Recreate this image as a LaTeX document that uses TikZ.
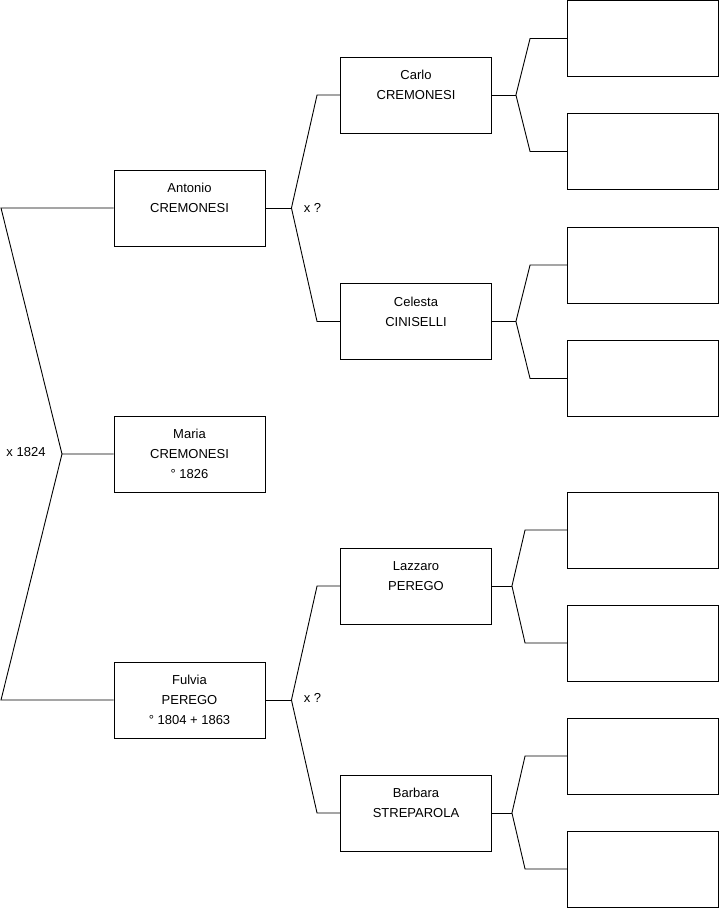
\documentclass[tikz,border=0pt]{standalone}
\usepackage{fontspec}
\setmainfont{Liberation Sans}
\usepackage{tikz}
\usetikzlibrary{positioning}

\begin{document}
\begin{tikzpicture}[x=1pt,y=-1pt,
  box/.style={draw,line width=0.9pt,minimum width=151pt,minimum height=76pt,inner sep=0pt,align=center,font=\fontsize{13}{20}\selectfont},
  link/.style={line width=0.9pt},
  note/.style={font=\fontsize{13}{20}\selectfont}]
  \useasboundingbox (0,0) rectangle (719,908);
  % first generation
  \node[box] (antonio) at (189.5,208) {Antonio\\CREMONESI\\\mbox{}};
  \node[box] (maria) at (189.5,454) {Maria\\CREMONESI\\\textdegree{} 1826};
  \node[box] (fulvia) at (189.5,700) {Fulvia\\PEREGO\\\textdegree{} 1804 + 1863};
  % second generation
  \node[box] (carlo) at (416,95) {Carlo\\CREMONESI\\\mbox{}};
  \node[box] (celesta) at (416,321.5) {Celesta\\CINISELLI\\\mbox{}};
  \node[box] (lazzaro) at (416,586) {Lazzaro\\PEREGO\\\mbox{}};
  \node[box] (barbara) at (416,813) {Barbara\\STREPAROLA\\\mbox{}};
  % third generation, empty
  \node[box] (g1) at (643,38.5) {};
  \node[box] (g2) at (643,151.5) {};
  \node[box] (g3) at (643,265) {};
  \node[box] (g4) at (643,378.5) {};
  \node[box] (g5) at (643,530) {};
  \node[box] (g6) at (643,643) {};
  \node[box] (g7) at (643,756) {};
  \node[box] (g8) at (643,869) {};
  % marriages
  \node[note] (m0) at (26,452) {x 1824};
  \node[note] (m1) at (312.5,208) {x ?};
  \node[note] (m2) at (312.5,698) {x ?};
  % root links
  \coordinate (j0) at (62,454);
  \draw[link] (antonio.west) -- (1,208) -- (j0) -- (maria.west);
  \draw[link] (j0) -- (1,700) -- (fulvia.west);
  % Antonio's parents
  \draw[link] (antonio.east) -- ++(26,0) coordinate (ja);
  \draw[link] (carlo.west) -- ++(-23,0) -- (ja) -- ([xshift=-23pt]celesta.west) -- (celesta.west);
  % Fulvia's parents
  \draw[link] (fulvia.east) -- ++(26,0) coordinate (jf);
  \draw[link] (lazzaro.west) -- ++(-23,0) -- (jf) -- ([xshift=-23pt]barbara.west) -- (barbara.west);
  % third generation links
  \draw[link] (carlo.east) -- ++(24,0) coordinate (jc);
  \draw[link] (g1.west) -- ++(-37,0) -- (jc) -- ([xshift=-37pt]g2.west) -- (g2.west);
  \draw[link] (celesta.east) -- ++(24,0) coordinate (jd);
  \draw[link] (g3.west) -- ++(-37,0) -- (jd) -- ([xshift=-37pt]g4.west) -- (g4.west);
  \draw[link] (lazzaro.east) -- ++(20,0) coordinate (jl);
  \draw[link] (g5.west) -- ++(-42,0) -- (jl) -- ([xshift=-42pt]g6.west) -- (g6.west);
  \draw[link] (barbara.east) -- ++(20,0) coordinate (jb);
  \draw[link] (g7.west) -- ++(-42,0) -- (jb) -- ([xshift=-42pt]g8.west) -- (g8.west);
\end{tikzpicture}
\end{document}
